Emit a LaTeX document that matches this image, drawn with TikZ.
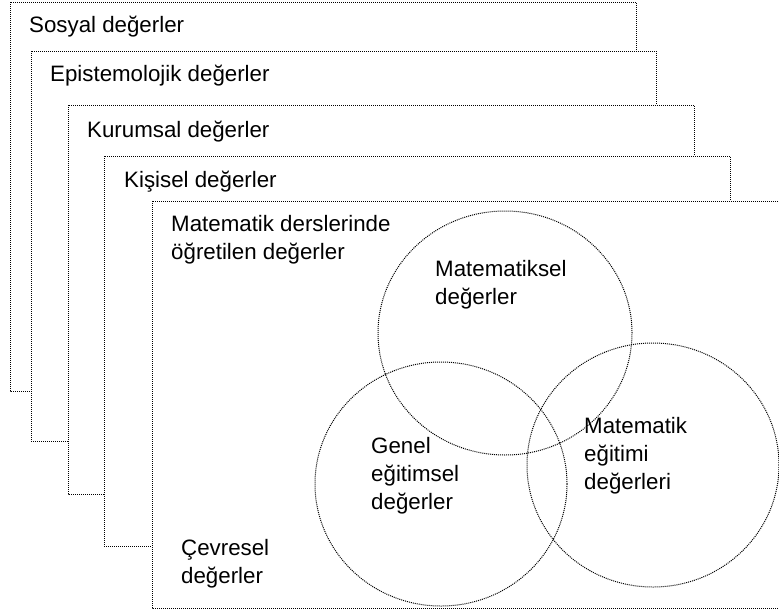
\documentclass[tikz,border=0pt]{standalone}
\usepackage{fontspec}
\setmainfont{Liberation Sans}
\begin{document}
\begin{tikzpicture}[x=1pt,y=-1pt,
  frame/.style={draw=black,fill=white,line width=1pt,dash pattern=on 1pt off 1pt},
  ring/.style={draw=black,line width=1pt,dash pattern=on 1pt off 1pt},
  label/.style={inner sep=0pt,anchor=base west,align=left,
    font=\fontsize{22.3}{28}\selectfont}]
\useasboundingbox (0,0) rectangle (779,613);
\clip (0,0) rectangle (779,613);
% nested layers of values, back to front
% (multi-line labels are placed by the baseline of their last line)
\path[frame] (10,2) rectangle (636,391);
\node[label] (sosyal) at (29,32) {Sosyal değerler};
\path[frame] (31,51) rectangle (656,441);
\node[label] (epist) at (50,81) {Epistemolojik değerler};
\path[frame] (68,105) rectangle (694,494);
\node[label] (kurum) at (87,137) {Kurumsal değerler};
\path[frame] (104,156) rectangle (730,546);
\node[label] (kisi) at (124,187) {Kişisel değerler};
\path[frame] (152,201) rectangle (800,608);
\node[label] (ders) at (171,259) {Matematik derslerinde\\öğretilen değerler};
% three overlapping value sets
\draw[ring] (505,333) ellipse [x radius=127pt, y radius=122pt];
\draw[ring] (441,484) ellipse [x radius=126pt, y radius=122pt];
\draw[ring] (653,465) ellipse [x radius=126pt, y radius=122pt];
\node[label] (matsel) at (435,304) {Matematiksel\\değerler};
\node[label] (genel) at (371,509) {Genel\\eğitimsel\\değerler};
\node[label] (matedu) at (584,489) {Matematik\\eğitimi\\değerleri};
\node[label] (cevre) at (181,583) {Çevresel\\değerler};
\end{tikzpicture}
\end{document}
